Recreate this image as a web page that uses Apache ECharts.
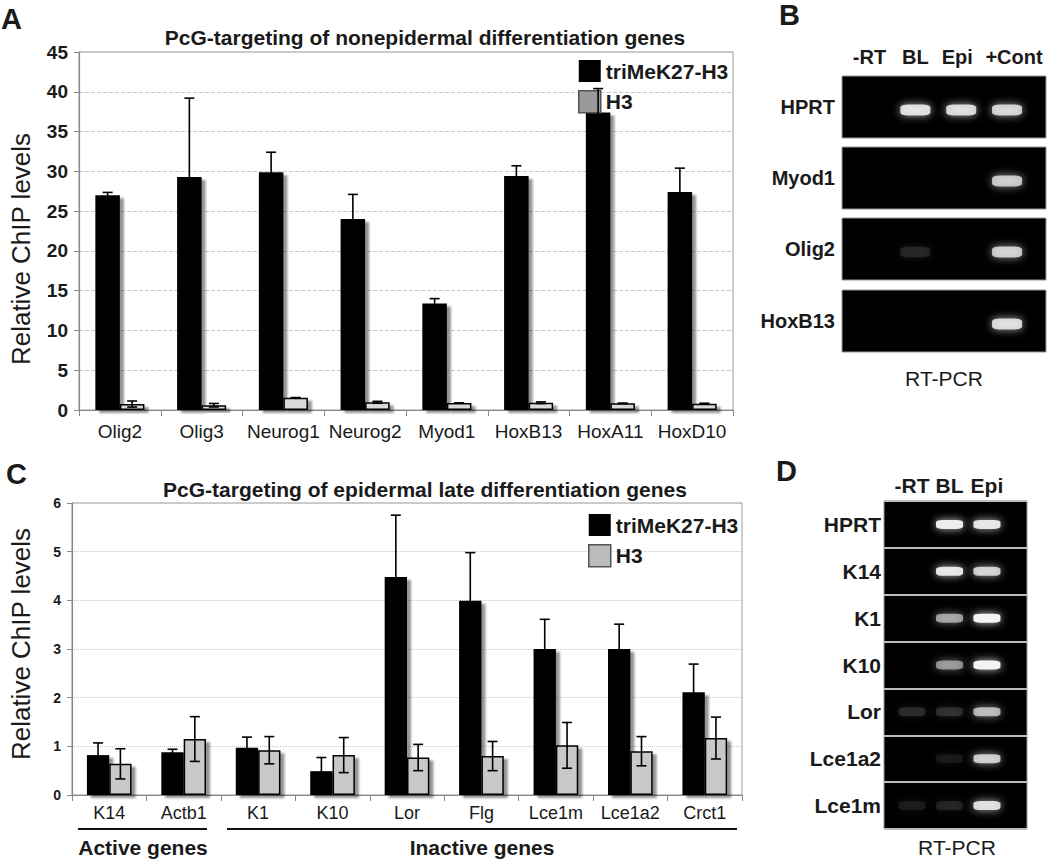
<!DOCTYPE html>
<html><head><meta charset="utf-8">
<script src="https://cdn.jsdelivr.net/npm/echarts@6/dist/echarts.min.js"></script>
<style>html,body{margin:0;padding:0;background:#fff}#c{width:1050px;height:862px}</style>
</head><body><div id="c"></div>
<script>
// ---------- Panel A data ----------
const genesA = ['Olig2','Olig3','Neurog1','Neurog2','Myod1','HoxB13','HoxA11','HoxD10'];
const trimeA = [27.0, 29.3, 29.9, 24.0, 13.4, 29.4, 37.4, 27.4];
const trimeAErr = [0.35, 9.9, 2.5, 3.1, 0.6, 1.3, 3.0, 3.0];
const h3A = [0.75, 0.6, 1.55, 0.97, 0.88, 0.92, 0.84, 0.8];
const h3AErr = [0.38, 0.22, 0.0, 0.12, 0.0, 0.1, 0.0, 0.05];
// ---------- Panel C data ----------
const genesC = ['K14','Actb1','K1','K10','Lor','Flg','Lce1m','Lce1a2','Crct1'];
const trimeC = [0.82, 0.88, 0.97, 0.49, 4.48, 3.99, 3.0, 3.0, 2.11];
const trimeCErr = [0.25, 0.06, 0.22, 0.28, 1.27, 0.99, 0.61, 0.51, 0.58];
const h3C = [0.64, 1.15, 0.92, 0.82, 0.77, 0.8, 1.02, 0.9, 1.17];
const h3CErr = [0.31, 0.46, 0.28, 0.36, 0.27, 0.3, 0.47, 0.3, 0.43];
// ---------- Panel B gel (band intensity 0..1) ----------
const lanesB = ['-RT','BL','Epi','+Cont'];
const genesB = ['HPRT','Myod1','Olig2','HoxB13'];
const bandsB = [
  [0, 0.85, 0.82, 0.78],
  [0, 0, 0, 0.72],
  [0, 0.1, 0, 0.75],
  [0, 0, 0, 0.82]
];
// ---------- Panel D gel ----------
const lanesD = ['-RT','BL','Epi'];
const genesD = ['HPRT','K14','K1','K10','Lor','Lce1a2','Lce1m'];
const bandsD = [
  [0, 0.95, 0.9],
  [0, 0.9, 0.78],
  [0, 0.55, 1.0],
  [0, 0.5, 1.0],
  [0.12, 0.14, 0.65],
  [0, 0.07, 0.75],
  [0.08, 0.1, 0.85]
];

const FONT = "'Liberation Sans', Arial, Helvetica, sans-serif";
const TXT = '#1a1a1a';
const chart = echarts.init(document.getElementById('c'), null, {renderer: 'svg', width: 1050, height: 862});

const barShadow = {shadowColor: 'rgba(0,0,0,0.42)', shadowOffsetX: 4, shadowOffsetY: 3, shadowBlur: 2};

function errorSeries(xi, vals, errs, sign) {
  return {
    type: 'custom', xAxisIndex: xi, yAxisIndex: xi, z: 10, silent: true,
    encode: {x: 0, y: [1, 2]},
    data: vals.map((v, i) => [i, Math.max(0, v - errs[i]), v + errs[i]]),
    renderItem(params, api) {
      const i = api.value(0);
      const lo = api.coord([i, api.value(1)]);
      const hi = api.coord([i, api.value(2)]);
      const bw = api.size([1, 0])[0] * 0.3;
      const x = lo[0] + sign * bw / 2;
      const cap = 5;
      const st = {stroke: '#000', lineWidth: 1.6};
      return {type: 'group', children: [
        {type: 'line', shape: {x1: x, y1: lo[1], x2: x, y2: hi[1]}, style: st},
        {type: 'line', shape: {x1: x - cap, y1: hi[1], x2: x + cap, y2: hi[1]}, style: st},
        {type: 'line', shape: {x1: x - cap, y1: lo[1], x2: x + cap, y2: lo[1]}, style: st}
      ]};
    }
  };
}

const grids = [
  {left: 78, top: 52, width: 655, height: 358, show: true, borderColor: '#999', borderWidth: 1, backgroundColor: 'transparent'},
  {left: 68, top: 503, width: 674, height: 292, show: true, borderColor: '#999', borderWidth: 1, backgroundColor: 'transparent'}
];
const bTops = [76, 147, 218, 290];
bTops.forEach(t => grids.push({left: 842, top: t, width: 204, height: 62, show: true, backgroundColor: '#000', borderColor: '#999', borderWidth: 1}));
grids.push({left: 884, top: 501, width: 143, height: 328, show: true, backgroundColor: '#000', borderColor: '#999', borderWidth: 1});

function catX(gi, data, fs, margin) {
  return {type: 'category', gridIndex: gi, data: data,
    axisLine: {lineStyle: {color: '#888', width: 1.2}},
    axisTick: {show: true, length: 6, lineStyle: {color: '#888'}},
    axisLabel: {interval: 0, fontSize: fs, color: TXT, margin: margin, fontFamily: FONT}};
}
function valY(gi, max, fs, splitType, nameGap, pad) {
  return {type: 'value', gridIndex: gi, min: 0, max: max, interval: max > 10 ? 5 : 1,
    axisLine: {show: true, lineStyle: {color: '#888', width: 1.2}},
    axisTick: {show: true, length: 5, lineStyle: {color: '#888'}},
    axisLabel: {fontSize: fs, fontWeight: 'bold', color: TXT, margin: 11, fontFamily: FONT},
    splitLine: {show: true, lineStyle: {color: '#c8c8c8', type: splitType, width: 1}},
    name: 'Relative ChIP levels', nameLocation: 'middle', nameGap: nameGap,
    nameTextStyle: {fontSize: 26, color: TXT, fontFamily: FONT, padding: pad}};
}

const xAxes = [catX(0, genesA, 19, 12), catX(1, genesC, 18, 9)];
const yAxes = [valY(0, 45, 19, 'dashed', 45, [0, 36, 0, 0]), valY(1, 6, 14, 'dotted', 38, [0, 0, 0, 10])];

// B gel axes
genesB.forEach((g, i) => {
  xAxes.push({type: 'value', gridIndex: 2 + i, min: -0.6, max: 3.85, position: 'top',
    axisLine: {show: false}, axisTick: {show: false}, splitLine: {show: false},
    axisLabel: {show: i === 0, customValues: [0, 1, 2, 3],
      formatter: v => (v === 2 ? '{e|' + lanesB[v] + '}' : v === 3 ? '{c|' + lanesB[v] + '}' : lanesB[v]),
      rich: {
        e: {fontSize: 20, fontWeight: 'bold', color: TXT, fontFamily: FONT, padding: [0, 8, 0, 0]},
        c: {fontSize: 20, fontWeight: 'bold', color: TXT, fontFamily: FONT, padding: [0, 0, 0, 14]}
      },
      fontSize: 20, fontWeight: 'bold', color: TXT, margin: 9, fontFamily: FONT}});
  yAxes.push({type: 'category', gridIndex: 2 + i, data: [g],
    axisLine: {show: false}, axisTick: {show: false}, splitLine: {show: false},
    axisLabel: {fontSize: 20, fontWeight: 'bold', color: TXT, margin: 7, fontFamily: FONT}});
});
// D gel axes
xAxes.push({type: 'value', gridIndex: 6, min: -0.75, max: 3.07, position: 'top',
  axisLine: {show: false}, axisTick: {show: false}, splitLine: {show: false},
  axisLabel: {customValues: [0, 1, 2], formatter: v => lanesD[v],
    fontSize: 21, fontWeight: 'bold', color: TXT, margin: 5, fontFamily: FONT}});
yAxes.push({type: 'category', gridIndex: 6, data: genesD, inverse: true,
  axisLine: {show: false}, axisTick: {show: false},
  splitLine: {show: true, lineStyle: {color: '#bdbdbd', width: 2}},
  axisLabel: {fontSize: 21, fontWeight: 'bold', color: TXT, margin: 3, fontFamily: FONT}});

const series = [
  {type: 'bar', name: 'triMeK27-H3', xAxisIndex: 0, yAxisIndex: 0, data: trimeA, barWidth: '30%', barGap: '0%',
    itemStyle: Object.assign({color: '#000'}, barShadow)},
  {type: 'bar', name: 'H3', xAxisIndex: 0, yAxisIndex: 0, data: h3A, barWidth: '30%', barGap: '0%',
    itemStyle: Object.assign({color: '#d9d9d9', borderColor: '#000', borderWidth: 1.5}, barShadow)},
  errorSeries(0, trimeA, trimeAErr, -1),
  errorSeries(0, h3A, h3AErr, 1),
  {type: 'bar', name: 'triMeK27-H3', xAxisIndex: 1, yAxisIndex: 1, data: trimeC, barWidth: '30%', barGap: '0%',
    itemStyle: Object.assign({color: '#000'}, barShadow)},
  {type: 'bar', name: 'H3', xAxisIndex: 1, yAxisIndex: 1, data: h3C, barWidth: '30%', barGap: '0%',
    itemStyle: Object.assign({color: '#c8c8c8', borderColor: '#000', borderWidth: 1.5}, barShadow)},
  errorSeries(1, trimeC, trimeCErr, -1),
  errorSeries(1, h3C, h3CErr, 1)
];

function bandItem(x, y, v) {
  return {value: [x, y], itemStyle: {opacity: v}};
}
genesB.forEach((g, i) => {
  const data = [];
  bandsB[i].forEach((v, j) => { if (v > 0) data.push(bandItem(j, 0, v)); });
  series.push({type: 'scatter', xAxisIndex: 2 + i, yAxisIndex: 2 + i, silent: true,
    symbol: 'roundRect', symbolSize: [30, 11], symbolOffset: [0, 3], data: data,
    itemStyle: {color: '#f4f4f4', shadowColor: 'rgba(255,255,255,0.8)', shadowBlur: 9}});
});
{
  const data = [];
  bandsD.forEach((row, r) => row.forEach((v, j) => { if (v > 0) data.push(bandItem(j, r, v)); }));
  series.push({type: 'scatter', xAxisIndex: 6, yAxisIndex: 6, silent: true,
    symbol: 'roundRect', symbolSize: [27, 9], data: data,
    itemStyle: {color: '#f4f4f4', shadowColor: 'rgba(255,255,255,0.8)', shadowBlur: 8}});
}

function legendCfg(left, top, h3Color) {
  return {left: left, top: top, orient: 'vertical', icon: 'rect', itemWidth: 22, itemHeight: 22, itemGap: 8,
    selectedMode: false,
    textStyle: {fontSize: 21, fontWeight: 'bold', color: TXT, fontFamily: FONT},
    data: [
      {name: 'triMeK27-H3', itemStyle: {color: '#000', shadowBlur: 0, shadowOffsetX: 0, shadowOffsetY: 0}},
      {name: 'H3', itemStyle: {color: h3Color, borderColor: '#555', borderWidth: 1.5, shadowBlur: 0, shadowOffsetX: 0, shadowOffsetY: 0}}
    ]};
}

function txt(x, y, s, size, weight, align) {
  return {type: 'text', x: x, y: y, style: {text: s, fontSize: size, fontWeight: weight || 'normal',
    fontFamily: FONT, fill: TXT, align: align || 'left', verticalAlign: 'middle'}};
}
function hline(x1, x2, y) {
  return {type: 'line', shape: {x1: x1, y1: y, x2: x2, y2: y}, style: {stroke: '#111', lineWidth: 2}};
}

chart.setOption({
  animation: false,
  backgroundColor: '#fff',
  textStyle: {fontFamily: FONT},
  title: [
    {text: 'PcG-targeting of nonepidermal differentiation genes', left: 420, top: 22, textAlign: 'center',
      textStyle: {fontSize: 21, fontWeight: 'bold', color: TXT, fontFamily: FONT}},
    {text: 'PcG-targeting of epidermal late differentiation genes', left: 420, top: 474, textAlign: 'center',
      textStyle: {fontSize: 21, fontWeight: 'bold', color: TXT, fontFamily: FONT}}
  ],
  legend: [legendCfg(573, 55, '#999'), legendCfg(583, 509, '#bbb')],
  grid: grids,
  xAxis: xAxes,
  yAxis: yAxes,
  series: series,
  graphic: [
    txt(1, 19, 'A', 29, 'bold'),
    txt(779, 15, 'B', 29, 'bold'),
    txt(6, 474, 'C', 29, 'bold'),
    txt(776, 471, 'D', 29, 'bold'),
    txt(944, 378, 'RT-PCR', 21, 'normal', 'center'),
    txt(957, 847, 'RT-PCR', 21, 'normal', 'center'),
    hline(78, 207, 829),
    hline(227, 737, 829),
    txt(143, 847, 'Active genes', 21, 'bold', 'center'),
    txt(482, 847, 'Inactive genes', 21, 'bold', 'center')
  ]
});
</script>
</body></html>
